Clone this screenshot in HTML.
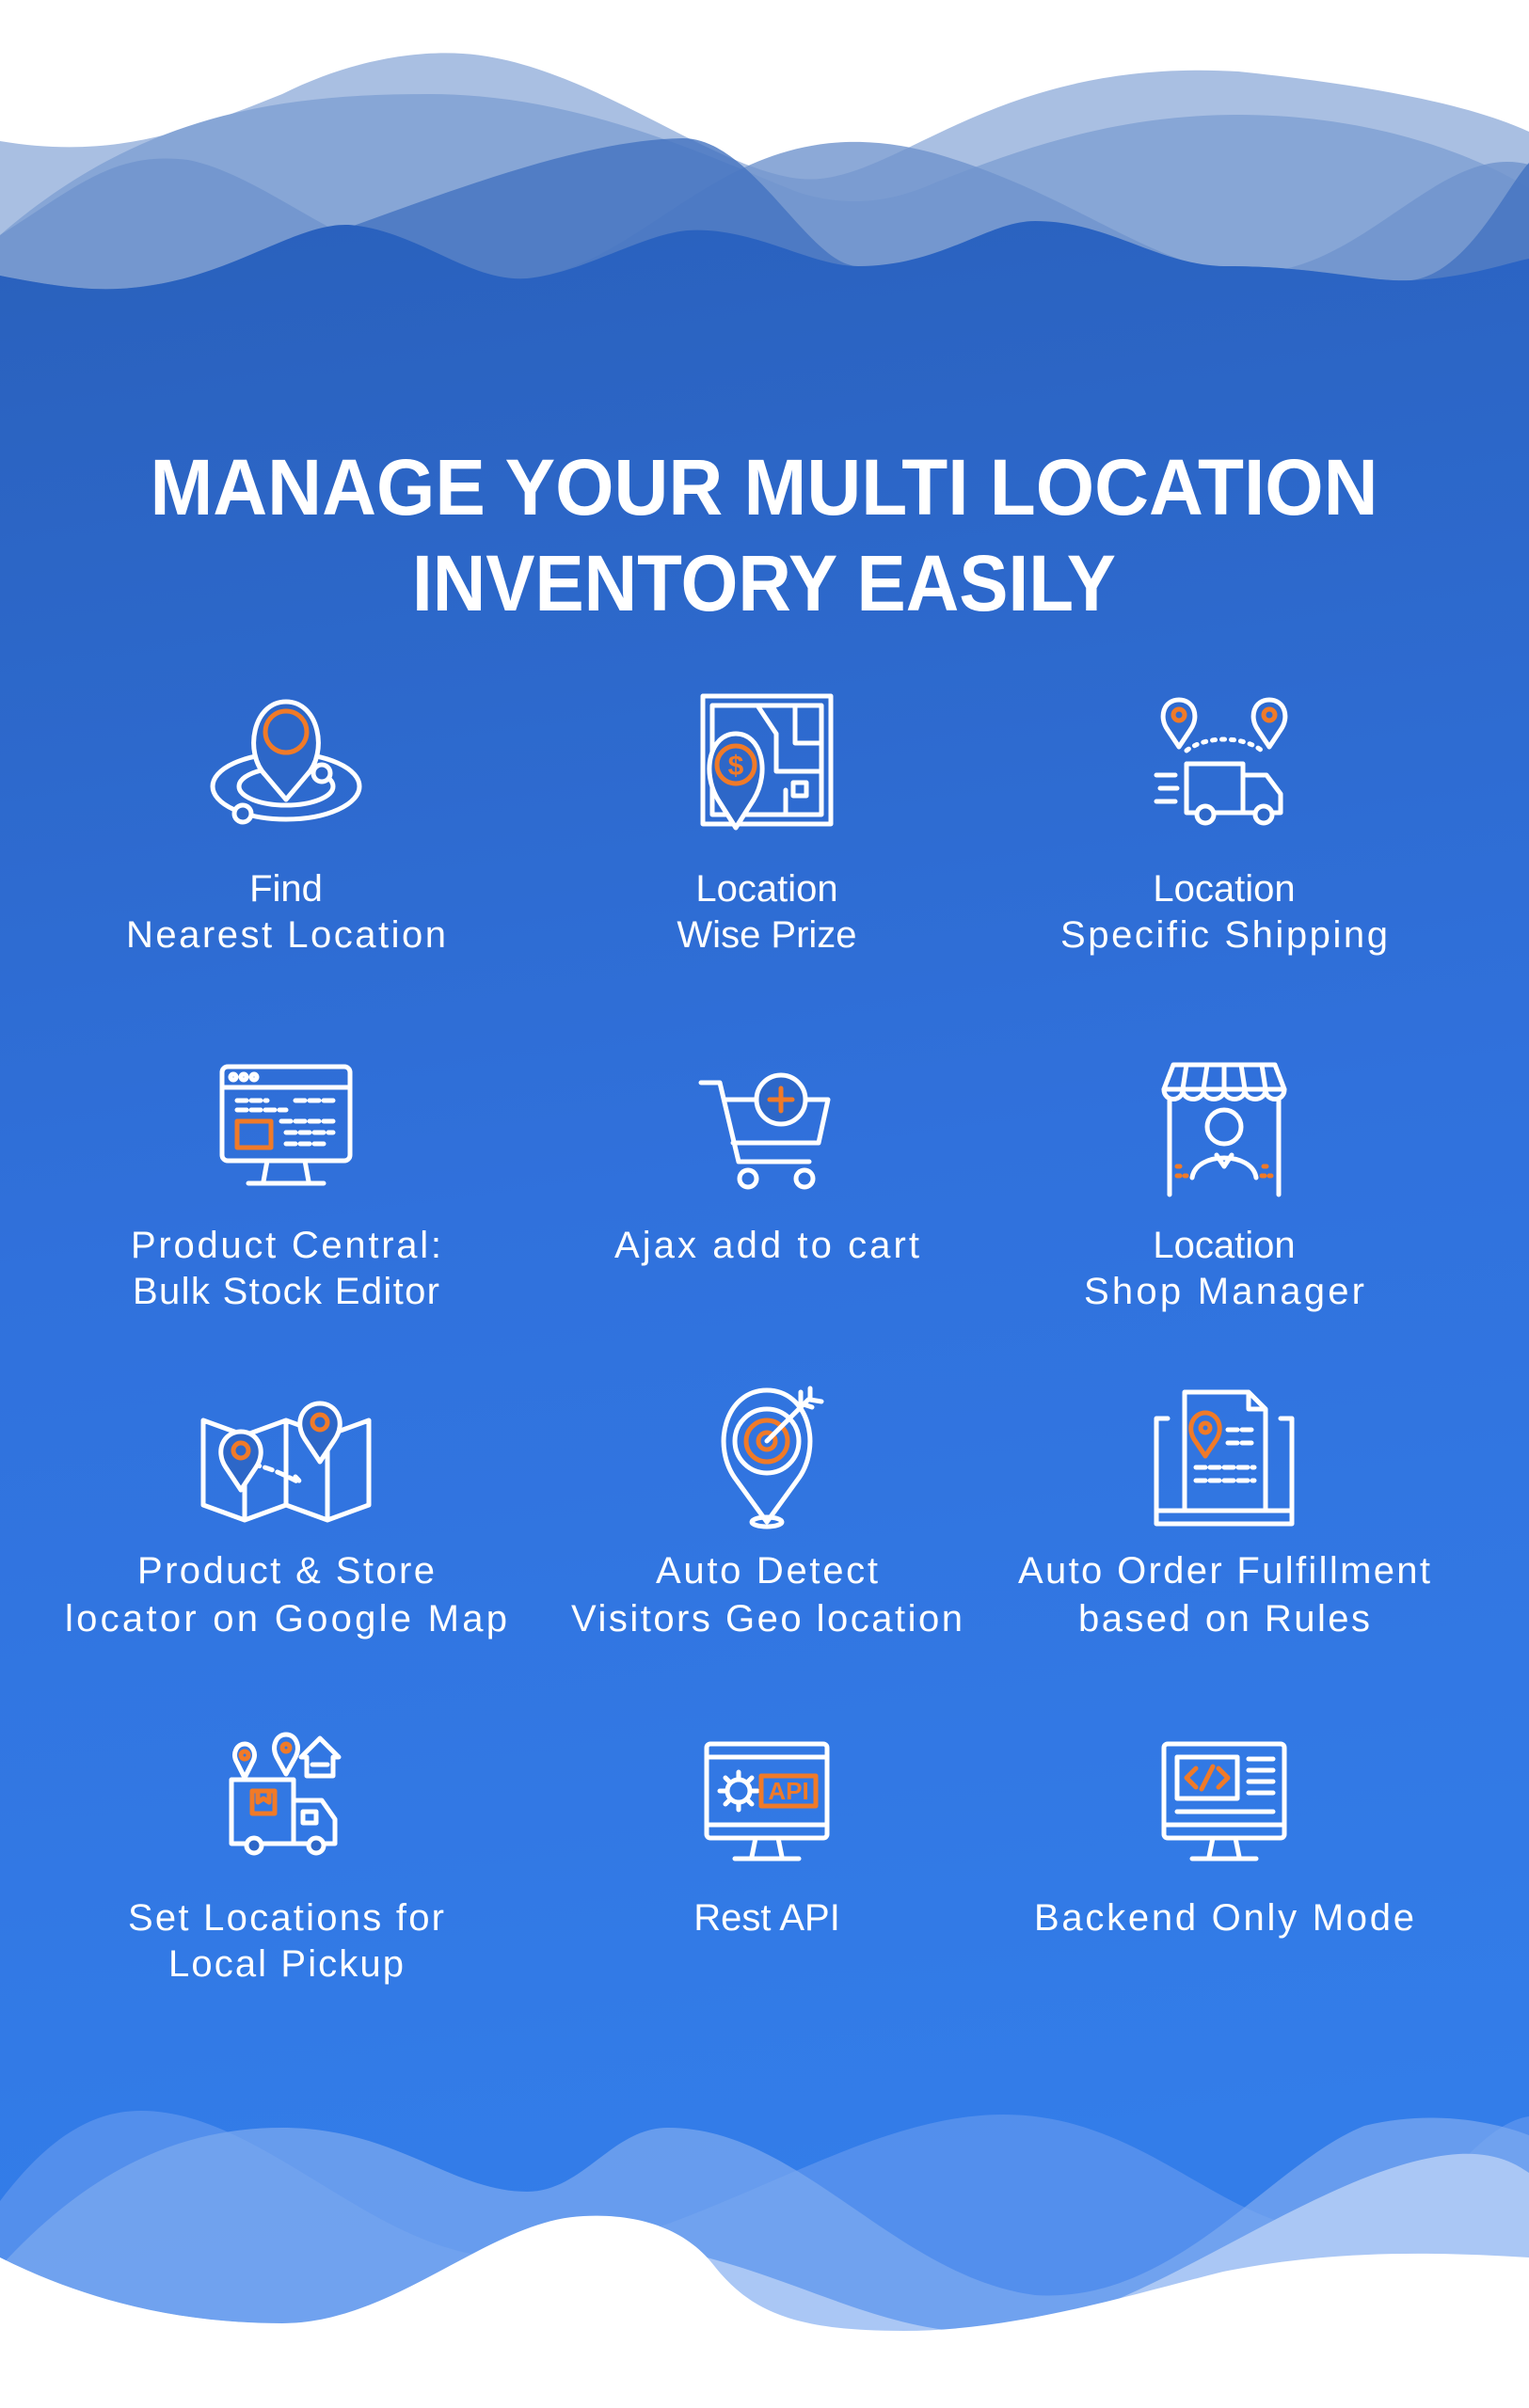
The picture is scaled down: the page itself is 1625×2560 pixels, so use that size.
<!DOCTYPE html>
<html><head><meta charset="utf-8"><style>
html,body{margin:0;padding:0;background:#fff}
svg{display:block}
</style></head><body>
<svg width="1625" height="2560" viewBox="0 0 1625 2560" xmlns="http://www.w3.org/2000/svg">
<defs>
<linearGradient id="bg" gradientUnits="userSpaceOnUse" x1="0" y1="280" x2="300" y2="2400">
<stop offset="0" stop-color="#2a61bd"/>
<stop offset="0.5" stop-color="#3071dc"/>
<stop offset="1" stop-color="#337de9"/>
</linearGradient>
</defs>
<rect width="1625" height="2560" fill="#fff"/>
<rect x="0" y="300" width="1625" height="2260" fill="url(#bg)"/>
<!-- top waves -->
<path d="M0 150 C120 170 200 140 300 100 C380 60 460 50 518 60 C640 80 760 180 850 190 C950 200 1050 60 1316 76 C1450 90 1560 110 1625 140 L1625 420 L0 420Z" fill="#a9bfe2"/>
<path d="M0 250 C150 120 300 100 456 100 C620 100 760 170 850 205 C900 220 940 215 980 200 C1100 150 1200 122 1316 122 C1450 122 1560 160 1625 200 L1625 420 L0 420Z" fill="#87a6d6"/>
<path d="M0 250 C80 200 120 160 200 170 C300 190 400 310 560 296 C700 280 780 100 1000 165 C1150 210 1230 290 1330 290 C1450 290 1530 150 1625 175 L1625 420 L0 420Z" fill="#6f93cd" opacity="0.8"/>
<path d="M0 293 C60 305 100 310 140 306 C300 290 550 150 725 147 C800 146 860 283 912 283 C1050 283 1200 283 1305 283 C1400 283 1470 302 1500 298 C1560 290 1600 200 1625 173 L1625 420 L0 420Z" fill="#4473c0" opacity="0.8"/>
<path d="M0 293 C60 305 100 310 140 306 C250 296 320 230 380 240 C450 250 500 300 560 296 C620 290 680 250 730 245 C800 240 860 283 912 283 C1000 283 1050 235 1100 235 C1180 235 1230 283 1305 283 C1400 283 1450 300 1500 298 C1560 295 1600 280 1625 275 L1625 430 L0 430Z" fill="url(#bg)"/>
<!-- bottom waves -->
<path d="M0 2340 C60 2260 110 2244 150 2244 C280 2244 400 2400 540 2400 C720 2400 900 2248 1066 2248 C1220 2248 1300 2372 1420 2372 C1520 2372 1560 2260 1625 2250 L1625 2560 L0 2560Z" fill="#5f96ee" opacity="0.75"/>
<path d="M0 2410 C100 2300 200 2262 300 2262 C420 2262 480 2330 560 2330 C620 2330 650 2262 710 2262 C850 2262 950 2420 1100 2440 C1250 2450 1350 2300 1450 2260 C1530 2240 1600 2260 1625 2270 L1625 2560 L0 2560Z" fill="#7eaaf0" opacity="0.7"/>
<path d="M0 2400 C100 2450 200 2470 300 2470 C420 2470 500 2380 600 2380 C800 2380 900 2480 1050 2480 C1200 2480 1400 2300 1550 2290 C1590 2288 1610 2300 1625 2310 L1625 2560 L0 2560Z" fill="#aac7f5"/>
<path d="M0 2400 C100 2450 200 2470 300 2470 C420 2470 520 2360 620 2356 C680 2353 730 2370 760 2410 C800 2460 850 2478 960 2478 C1080 2478 1200 2440 1300 2415 C1400 2395 1500 2392 1625 2400 L1625 2560 L0 2560Z" fill="#fff"/>

<!-- title -->
<g fill="#fff" font-family="'Liberation Sans',sans-serif" font-weight="bold" font-size="84" text-anchor="middle">
<text x="812" y="547" textLength="1305" lengthAdjust="spacingAndGlyphs">MANAGE YOUR MULTI LOCATION</text>
<text x="812" y="649" textLength="748" lengthAdjust="spacingAndGlyphs">INVENTORY EASILY</text>
</g>

<!-- labels -->
<g fill="#fff" font-family="'Liberation Sans',sans-serif" font-size="40" text-anchor="middle">
<text x="304" y="958">Find</text>
<text x="304" y="1007" textLength="340">Nearest Location</text>
<text x="815" y="958">Location</text>
<text x="815" y="1007">Wise Prize</text>
<text x="1301" y="958">Location</text>
<text x="1301" y="1007" textLength="348">Specific Shipping</text>
<text x="304" y="1337" textLength="330">Product Central:</text>
<text x="304" y="1386" textLength="326">Bulk Stock Editor</text>
<text x="815" y="1337" textLength="324">Ajax add to cart</text>
<text x="1301" y="1337">Location</text>
<text x="1301" y="1386" textLength="298">Shop Manager</text>
<text x="304" y="1683" textLength="316">Product &amp; Store</text>
<text x="304" y="1734" textLength="470">locator on Google Map</text>
<text x="815" y="1683" textLength="236">Auto Detect</text>
<text x="815" y="1734" textLength="416">Visitors Geo location</text>
<text x="1301" y="1683" textLength="438">Auto Order Fulfillment</text>
<text x="1301" y="1734" textLength="310">based on Rules</text>
<text x="304" y="2052" textLength="336">Set Locations for</text>
<text x="304" y="2101" textLength="250">Local Pickup</text>
<text x="815" y="2052">Rest API</text>
<text x="1301" y="2052" textLength="404">Backend Only Mode</text>
</g>

<g fill="none" stroke="#fff" stroke-width="5" stroke-linecap="round" stroke-linejoin="round">
<g transform="translate(304,812)">
<ellipse cx="0" cy="24" rx="78" ry="35"/>
<ellipse cx="0" cy="24" rx="50" ry="20"/>
<path d="M0 38 L-22 12 C-45 -12 -35 -66 0 -66 C35 -66 45 -12 22 12 Z" fill="#2d67c8"/>
<circle cx="0" cy="-34" r="22" stroke="#f07a28"/>
<circle cx="38" cy="10" r="9" fill="#2d67c8"/>
<circle cx="-46" cy="53" r="9" fill="#2d67c8"/>
</g>
<g transform="translate(815,810)">
<rect x="-68" y="-70" width="136" height="136"/>
<rect x="-58" y="-60" width="116" height="116"/>
<path d="M-10 -60 L10 -30 L10 10 L58 10 M30 -60 L30 -20 L58 -20 M20 30 L20 56"/>
<rect x="28" y="22" width="14" height="14"/>
<path d="M-33 70 L-52 40 C-70 10 -60 -30 -33 -30 C-6 -30 4 10 -14 40 Z" fill="#2d67c8"/>
<circle cx="-33" cy="3" r="20" stroke="#f07a28"/>
<text x="-33" y="14" fill="#f07a28" stroke="none" font-family="'Liberation Sans',sans-serif" font-size="30" font-weight="bold" text-anchor="middle">$</text>
</g>
<g transform="translate(1301,812)">
<path d="M-48 -18 L-60 -36 C-70 -50 -64 -68 -48 -68 C-32 -68 -26 -50 -36 -36 Z"/>
<circle cx="-48" cy="-52" r="6" stroke="#f07a28"/>
<path d="M48 -18 L36 -36 C26 -50 32 -68 48 -68 C64 -68 70 -50 60 -36 Z"/>
<circle cx="48" cy="-52" r="6" stroke="#f07a28"/>
<path d="M-40 -14 C-20 -30 20 -30 40 -14" stroke-dasharray="3 7"/>
<path d="M-40 0 L20 0 L20 52 L-40 52 Z M20 12 L45 12 L60 32 L60 52 L20 52"/>
<path d="M-72 12 L-52 12 M-68 26 L-50 26 M-72 40 L-52 40"/>
<circle cx="-20" cy="54" r="9" fill="#2d67c8"/>
<circle cx="42" cy="54" r="9" fill="#2d67c8"/>
</g>
<g transform="translate(304,1200)">
<rect x="-68" y="-66" width="136" height="100" rx="6"/>
<path d="M-68 -44 L68 -44 M-20 34 L-24 56 M20 34 L24 56 M-40 58 L40 58"/>
<circle cx="-56" cy="-55" r="3"/><circle cx="-45" cy="-55" r="3"/><circle cx="-34" cy="-55" r="3"/>
<rect x="-52" y="-8" width="36" height="28" stroke="#f07a28"/>
<path d="M-52 -30 L-20 -30 M-52 -20 L0 -20 M-5 -8 L50 -8 M0 4 L50 4 M0 16 L40 16 M10 -30 L50 -30" stroke-dasharray="10 5"/>
</g>
<g transform="translate(815,1205)">
<path d="M-70 -54 L-50 -54 L-30 30 L45 30 M-44 -36 L65 -36 L55 10 L-36 10"/>
<circle cx="-20" cy="48" r="9"/><circle cx="40" cy="48" r="9"/>
<circle cx="15" cy="-36" r="26" fill="#2d67c8"/>
<path d="M15 -48 L15 -24 M3 -36 L27 -36" stroke="#f07a28"/>
</g>
<g transform="translate(1301,1200)">
<path d="M-64 -42 L-54 -68 L54 -68 L64 -42 Z"/>
<path d="M-64 -42 C-64 -28 -44 -28 -44 -42 C-44 -28 -22 -28 -22 -42 C-22 -28 0 -28 0 -42 C0 -28 22 -28 22 -42 C22 -28 44 -28 44 -42 C44 -28 64 -28 64 -42"/>
<path d="M-40 -68 L-44 -42 M-18 -68 L-22 -42 M0 -68 L0 -42 M18 -68 L22 -42 M40 -68 L44 -42"/>
<path d="M-58 -32 L-58 70 M58 -32 L58 70"/>
<circle cx="0" cy="-2" r="18"/>
<path d="M-34 52 C-30 24 30 24 34 52 M-8 28 L0 40 L8 28"/>
<path d="M-50 50 L-40 50 M40 50 L50 50 M-50 40 L-42 40 M42 40 L50 40" stroke="#f07a28" stroke-dasharray="3 5"/>
</g>
<g transform="translate(304,1550)">
<path d="M-88 -40 L-44 -24 L0 -40 L44 -24 L88 -40 L88 50 L44 66 L0 50 L-44 66 L-88 50 Z M-44 -24 L-44 66 M0 -40 L0 50 M44 -24 L44 66"/>
<path d="M-50 8 C-20 0 30 40 10 20" stroke-dasharray="8 6"/>
<path d="M-48 34 L-64 10 C-76 -8 -66 -28 -48 -28 C-30 -28 -20 -8 -32 10 Z" fill="#2d67c8"/>
<circle cx="-48" cy="-8" r="8" stroke="#f07a28"/>
<path d="M36 4 L20 -20 C8 -38 18 -58 36 -58 C54 -58 64 -38 52 -20 Z" fill="#2d67c8"/>
<circle cx="36" cy="-38" r="8" stroke="#f07a28"/>
</g>
<g transform="translate(815,1548)">
<path d="M0 70 L-32 26 C-60 -10 -44 -70 0 -70 C44 -70 60 -10 32 26 Z"/>
<circle cx="0" cy="-16" r="34"/>
<circle cx="0" cy="-16" r="22" stroke="#f07a28"/>
<circle cx="0" cy="-16" r="9" stroke="#f07a28"/>
<path d="M0 -16 L44 -60 M36 -68 L36 -56 L48 -52 M46 -72 L46 -60 L58 -58"/>
<ellipse cx="0" cy="70" rx="16" ry="5"/>
</g>
<g transform="translate(1301,1548)">
<path d="M-60 -40 L-72 -40 L-72 72 L72 72 L72 -40 L60 -40"/>
<path d="M-72 58 L72 58"/>
<path d="M-42 58 L-42 -68 L26 -68 L44 -50 L44 58 M26 -68 L26 -50 L44 -50"/>
<path d="M-20 0 L-32 -18 C-40 -32 -32 -46 -20 -46 C-8 -46 0 -32 -8 -18 Z" stroke="#f07a28"/>
<circle cx="-20" cy="-30" r="5" stroke="#f07a28"/>
<path d="M4 -28 L32 -28 M4 -14 L32 -14 M-30 12 L32 12 M-30 26 L32 26" stroke-dasharray="10 5"/>
</g>
<g transform="translate(304,1920)">
<path d="M-58 -28 L8 -28 L8 40 L-58 40 Z M8 -6 L38 -6 L52 14 L52 40 L8 40"/>
<rect x="-36" y="-16" width="24" height="24" stroke="#f07a28"/>
<path d="M-30 -16 L-30 -4 L-24 -8 L-18 -4 L-18 -16" stroke="#f07a28"/>
<rect x="18" y="6" width="14" height="12"/>
<circle cx="-34" cy="42" r="8" fill="#2d67c8"/>
<circle cx="32" cy="42" r="8" fill="#2d67c8"/>
<path d="M-44 -30 L-52 -46 C-58 -56 -52 -66 -44 -66 C-36 -66 -30 -56 -36 -46 Z"/>
<circle cx="-44" cy="-54" r="4" stroke="#f07a28"/>
<path d="M0 -34 L-10 -52 C-16 -64 -10 -76 0 -76 C10 -76 16 -64 10 -52 Z"/>
<circle cx="0" cy="-62" r="4" stroke="#f07a28"/>
<path d="M22 -32 L22 -52 L16 -52 L36 -72 L56 -52 L50 -52 L50 -32 Z M28 -44 L44 -44"/>
</g>
<g transform="translate(815,1918)">
<rect x="-64" y="-64" width="128" height="100" rx="4"/>
<path d="M-64 -50 L64 -50 M-64 22 L64 22 M-12 36 L-16 56 M12 36 L16 56 M-34 58 L34 58"/>
<circle cx="-30" cy="-14" r="12"/>
<path d="M-30 -34 L-30 -28 M-30 0 L-30 6 M-50 -14 L-44 -14 M-16 -14 L-10 -14 M-44 -28 L-40 -24 M-20 -4 L-16 0 M-44 0 L-40 -4 M-20 -24 L-16 -28"/>
<rect x="-6" y="-30" width="58" height="32" stroke="#f07a28"/>
<text x="23" y="-5" fill="#f07a28" stroke="none" font-family="'Liberation Sans',sans-serif" font-size="26" font-weight="bold" text-anchor="middle">API</text>
</g>
<g transform="translate(1301,1918)">
<rect x="-64" y="-64" width="128" height="100" rx="4"/>
<path d="M-64 22 L64 22 M-12 36 L-16 56 M12 36 L16 56 M-34 58 L34 58"/>
<rect x="-50" y="-50" width="64" height="44"/>
<path d="M-30 -38 L-40 -28 L-30 -18 M-6 -38 L4 -28 L-6 -18 M-12 -40 L-24 -16" stroke="#f07a28"/>
<path d="M26 -48 L52 -48 M26 -36 L52 -36 M26 -24 L52 -24 M26 -12 L52 -12 M-50 8 L52 8"/>
</g>
</g>
</svg>
</body></html>
